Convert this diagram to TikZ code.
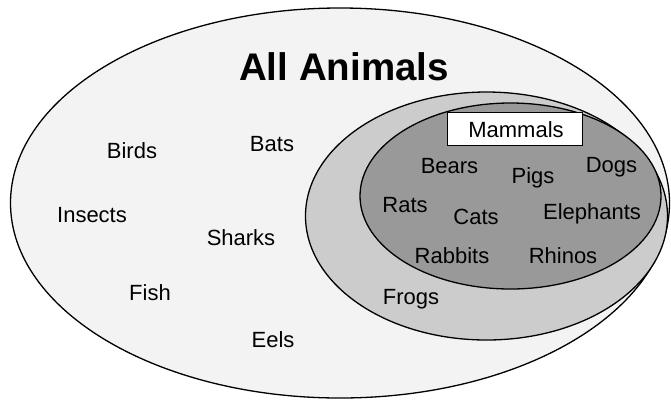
\documentclass[tikz,border=0pt]{standalone}
\usepackage{fontspec}
\setmainfont{Liberation Sans}
\definecolor{outerfill}{HTML}{F3F3F3}
\definecolor{midfill}{HTML}{CCCCCC}
\definecolor{innerfill}{HTML}{999999}
\begin{document}
\begin{tikzpicture}[x=1bp,y=-1bp,
  setline/.style={draw=black,line width=1.3bp},
  lbl/.style={anchor=base,inner sep=0pt,font=\fontsize{22bp}{26bp}\selectfont},
  title/.style={anchor=base,inner sep=0pt,font=\fontsize{38.5bp}{44bp}\selectfont\bfseries}]
\useasboundingbox (0,0) rectangle (671,401);
\fill[white] (0,0) rectangle (671,401);
% sets
\draw[setline,fill=outerfill] (340,203) ellipse [x radius=329.5, y radius=195];
\draw[setline,fill=midfill] (486.5,216) ellipse [x radius=181, y radius=124];
\draw[setline,fill=innerfill] (510.5,196) ellipse [x radius=150.5, y radius=93];
% mammals label box
\node[setline,fill=white,minimum width=135bp,minimum height=33.4bp,inner sep=0pt] (mbox) at (515.2,129) {};
\node[lbl] (mammals) at (516,137) {Mammals};
\node[title] (all) at (344,80) {All Animals};
% animals
\node[lbl] (birds) at (132,158) {Birds};
\node[lbl] (bats) at (272,151) {Bats};
\node[lbl] (insects) at (92,222) {Insects};
\node[lbl] (sharks) at (241,245) {Sharks};
\node[lbl] (fish) at (150,300) {Fish};
\node[lbl] (eels) at (273,347) {Eels};
\node[lbl] (frogs) at (411,304) {Frogs};
\node[lbl] (bears) at (449.5,173) {Bears};
\node[lbl] (pigs) at (533,183) {Pigs};
\node[lbl] (dogs) at (611.5,172) {Dogs};
\node[lbl] (rats) at (405,212.5) {Rats};
\node[lbl] (cats) at (476,224) {Cats};
\node[lbl] (elephants) at (592,219) {Elephants};
\node[lbl] (rabbits) at (452,263) {Rabbits};
\node[lbl] (rhinos) at (563,263) {Rhinos};
\end{tikzpicture}
\end{document}
